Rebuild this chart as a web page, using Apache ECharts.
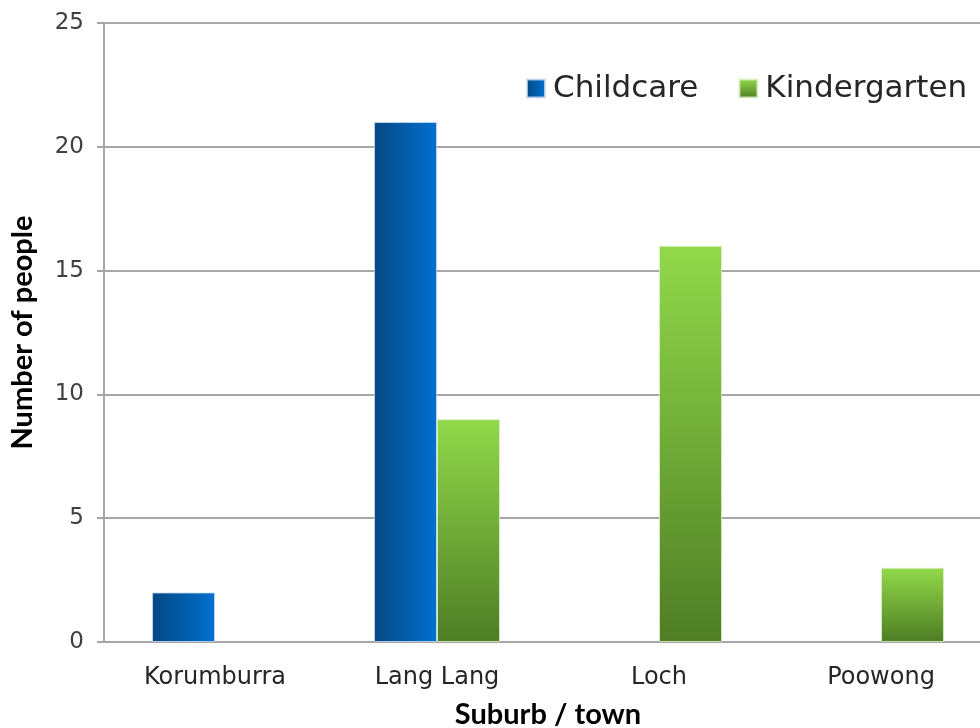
<!DOCTYPE html>
<html>
<head>
<meta charset="utf-8">
<script src="https://cdn.jsdelivr.net/npm/echarts@6/dist/echarts.min.js"></script>
<style>html,body{margin:0;padding:0;background:#fff}#c{width:980px;height:728px}</style>
</head>
<body>
<div id="c"></div>
<script>
const categories = ['Korumburra', 'Lang Lang', 'Loch', 'Poowong'];
const childcare = [2, 21, null, null];
const kindergarten = [null, 9, 16, 3];
const seriesNames = ['Childcare', 'Kindergarten'];
const yTicks = {min: 0, max: 25, interval: 5};

const chart = echarts.init(document.getElementById('c'), null, {renderer: 'canvas'});
const labelFont = 'DejaVu Sans';
const titleFont = 'Lato';
const blue = new echarts.graphic.LinearGradient(0, 0, 1, 0, [
  {offset: 0, color: '#044883'},
  {offset: 1, color: '#0071cf'}
]);
const green = new echarts.graphic.LinearGradient(0, 0, 0, 1, [
  {offset: 0, color: '#92d94a'},
  {offset: 1, color: '#4e7d25'}
]);
chart.setOption({
  animation: false,
  backgroundColor: '#ffffff',
  grid: {left: 104, right: -12, top: 23, bottom: 86, containLabel: false, outerBoundsMode: 'none'},
  legend: {
    left: 521, top: 68,
    icon: 'rect', itemWidth: 18, itemHeight: 18, itemGap: 40,
    textStyle: {fontFamily: labelFont, fontSize: 31, color: '#262626', padding: [0, 0, 0, 3]},
    data: seriesNames
  },
  xAxis: {
    type: 'category',
    data: categories,
    name: 'Suburb / town',
    nameLocation: 'middle',
    nameGap: 58,
    nameTextStyle: {fontFamily: titleFont, fontWeight: 'bold', fontSize: 29, color: '#000'},
    axisLine: {lineStyle: {color: '#a6a6a6', width: 2}},
    axisTick: {show: false},
    axisLabel: {fontFamily: labelFont, fontSize: 24, color: '#262626', margin: 24}
  },
  yAxis: {
    type: 'value',
    min: yTicks.min, max: yTicks.max, interval: yTicks.interval,
    name: 'Number of people',
    nameLocation: 'middle',
    nameGap: 67,
    nameTextStyle: {fontFamily: titleFont, fontWeight: 'bold', fontSize: 29, color: '#000'},
    axisLine: {show: true, lineStyle: {color: '#a6a6a6', width: 2}},
    axisTick: {show: true, length: 7, lineStyle: {color: '#a6a6a6', width: 2}},
    splitLine: {lineStyle: {color: '#a6a6a6', width: 2}},
    axisLabel: {fontFamily: labelFont, fontSize: 23, color: '#404040', margin: 20}
  },
  series: [
    {
      name: seriesNames[0], type: 'bar', data: childcare,
      barWidth: 63, barGap: '0%',
      itemStyle: {color: blue, borderColor: 'rgba(200,220,240,0.8)', borderWidth: 1}
    },
    {
      name: seriesNames[1], type: 'bar', data: kindergarten,
      barWidth: 63, barGap: '0%',
      itemStyle: {color: green, borderColor: 'rgba(220,240,200,0.8)', borderWidth: 1}
    }
  ]
});
</script>
</body>
</html>
